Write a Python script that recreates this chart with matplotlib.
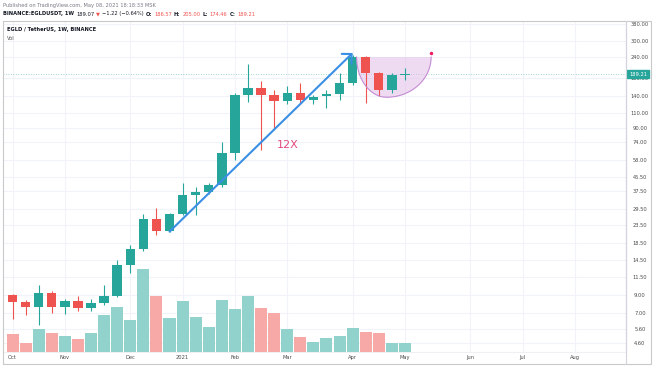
import numpy as np
import matplotlib
matplotlib.use("Agg")
import matplotlib.pyplot as plt
from matplotlib.patches import Rectangle, Polygon
from matplotlib.lines import Line2D
from matplotlib.ticker import FixedLocator, NullLocator, FuncFormatter
import matplotlib.transforms as mtransforms

# EGLD/USDT weekly candles, week 0 = 05 Oct 2020
opens = [8.95, 8.10, 7.55, 9.16, 7.60, 8.23, 7.44, 7.98, 8.82, 13.54,
         16.80, 25.60, 21.80, 27.30, 35.90, 37.20, 41.20, 63.40, 141.7, 155.5,
         141.7, 131.0, 146.3, 132.3, 139.0, 143.0, 168.0, 238.5, 192.8, 151.8,
         186.57]
highs = [9.05, 8.34, 10.28, 9.49, 8.43, 8.82, 8.43, 10.28, 14.50, 17.80,
         27.40, 29.60, 28.00, 41.80, 39.60, 42.00, 74.40, 145.0, 217.5, 172.8,
         151.5, 160.5, 166.5, 141.7, 151.5, 191.0, 246.0, 242.0, 196.0, 191.0,
         205.00]
lows = [6.40, 6.80, 5.91, 7.00, 6.92, 7.15, 7.20, 7.78, 8.70, 12.20,
        16.50, 20.50, 21.50, 27.00, 27.00, 36.00, 40.00, 57.80, 129.0, 66.3,
        89.8, 126.0, 125.0, 126.0, 118.0, 132.0, 162.7, 126.3, 139.8, 146.0,
        174.46]
closes = [8.10, 7.55, 9.16, 7.60, 8.23, 7.44, 7.98, 8.82, 13.54, 16.80,
          25.60, 21.80, 27.30, 35.90, 37.20, 41.20, 63.40, 141.7, 155.5, 141.7,
          131.0, 146.3, 132.3, 138.5, 143.0, 168.0, 238.5, 192.8, 151.8, 186.57,
          189.21]
# volume, thousand EGLD
volume = [177, 87, 230, 187, 160, 130, 187, 370, 447, 320,
          827, 560, 337, 510, 353, 253, 520, 430, 560, 440,
          387, 227, 147, 103, 137, 163, 237, 203, 187, 93,
          87]

month_pos = [0, 4, 9, 13, 17, 21, 26, 30, 35, 39, 43]
month_lbl = ['Oct', 'Nov', 'Dec', '2021', 'Feb', 'Mar', 'Apr', 'May', 'Jun', 'Jul', 'Aug']
price_ticks = [4.6, 5.6, 7.0, 9.0, 11.5, 14.5, 18.5, 23.5, 29.5, 37.5, 45.5, 58.0,
               74.0, 90.0, 110.0, 140.0, 180.0, 240.0, 300.0, 380.0]

# trend arrow from the Dec low to the Apr top, and the cup after it
arrow_from = 12
arrow_to = 26
cup_left, cup_mid, cup_right = 26.3, 28.6, 32.0
cup_top, cup_bottom = 239.5, 137.5

UP = '#26a69a'
DOWN = '#ef5350'
UP_VOL = '#92d2cc'
DOWN_VOL = '#f7a9a7'
TXT = '#131722'
SMALL = 3.7

W, H = 654, 366
fig = plt.figure(figsize=(W / 100, H / 100), dpi=100)
fig.patch.set_facecolor('white')

rect = [3 / W, 1 - 352 / H, (626 - 3) / W, (352 - 21) / H]
ax = fig.add_axes(rect)
ax_vol = fig.add_axes(rect, sharex=ax, zorder=ax.get_zorder() + 1)

x = np.arange(len(closes))
o = np.array(opens)
c = np.array(closes)
up = c >= o

# price panel
ax.set_yscale('log')
ax.vlines(x, lows, highs, colors=np.where(up, UP, DOWN), lw=0.8, zorder=3)
ax.bar(x, np.maximum(np.abs(c - o), 0.004 * c), bottom=np.minimum(o, c), width=0.72,
       color=np.where(up, UP, DOWN), zorder=4)

ax.set_xlim(-0.73, 46.9)
ax.set_ylim(4.08, 394)

ax.yaxis.tick_right()
ax.yaxis.set_major_locator(FixedLocator(price_ticks))
ax.yaxis.set_minor_locator(NullLocator())
ax.yaxis.set_major_formatter(FuncFormatter(lambda v, p: '%.2f' % v))
ax.set_xticks(month_pos, month_lbl)
ax.tick_params(axis='y', length=0, pad=10, labelsize=SMALL, labelcolor='#4a4a4a')
ax.tick_params(axis='x', length=0, pad=2, labelsize=SMALL, labelcolor='#4a4a4a')
for lab in ax.get_yticklabels():
    lab.set_ha('center')
ax.grid(True, color='#f0f3fa', lw=0.8, zorder=0)
ax.set_axisbelow(True)
for s in ['top', 'left']:
    ax.spines[s].set_visible(False)
ax.spines['right'].set_color('#d1d4dc')
ax.spines['bottom'].set_color('#eef0f4')

# last price line and label
ax.axhline(closes[-1], color=UP, lw=0.6, ls=(0, (1, 2)), alpha=0.6, zorder=2)
trans = mtransforms.blended_transform_factory(ax.transAxes, ax.transData)
ax.text(1.0 + 12 / (626 - 3), closes[-1], '%.2f' % closes[-1], transform=trans,
        ha='center', va='center', fontsize=SMALL, color='white', clip_on=False,
        bbox=dict(boxstyle='square,pad=0.35', fc=UP, ec=UP), zorder=10)

# trend arrow
ax.annotate('', xy=(arrow_to, highs[arrow_to] * 1.03), xytext=(arrow_from, lows[arrow_from]),
            arrowprops=dict(arrowstyle='->,head_length=0.5,head_width=0.5', color='#3a8fe5',
                            lw=1.5, shrinkA=0, shrinkB=0), zorder=6)
ax.text(21.0, 71, '12X', color='#e24a7c', fontsize=8, ha='center', va='center', zorder=6)

# cup
t = np.linspace(0, np.pi, 80)
half = np.where(np.cos(t) > 0, cup_right - cup_mid, cup_mid - cup_left)
cx = cup_mid + half * np.cos(t)
cy = np.exp(np.log(cup_top) - (np.log(cup_top) - np.log(cup_bottom)) * np.sin(t))
ax.add_patch(Polygon(np.column_stack([cx, cy]), closed=True, fc='#e1bee7', alpha=0.55,
                     ec='none', zorder=2))
ax.plot(cx, cy, color='#c48bd4', lw=0.8, zorder=5)
ax.plot([cup_right], [cup_top * 1.06], 'o', color='#e91e63', ms=1.5, zorder=6)

# volume panel on top, transparent
ax_vol.set_facecolor('none')
ax_vol.bar(x, volume, width=0.92, color=np.where(up, UP_VOL, DOWN_VOL), zorder=1)
ax_vol.set_ylim(0, 3310)
ax_vol.axis('off')

# frame and the axis separator
fig.add_artist(Rectangle((3 / W, 1 - 364 / H), (651 - 3) / W, (364 - 21) / H,
                         transform=fig.transFigure, fill=False, ec='#c9c9c9', lw=0.8))
fig.add_artist(Line2D([626 / W, 626 / W], [1 - 21 / H, 1 - 364 / H],
                      transform=fig.transFigure, color='#d1d4dc', lw=0.8))

# header lines, pieces laid next to each other
renderer = fig.canvas.get_renderer()


def put_line(x0, y0, parts):
    xx = x0
    for txt, col, bold in parts:
        t = fig.text(xx, y0, txt, color=col, fontsize=SMALL, va='center', ha='left',
                     fontweight='bold' if bold else 'normal')
        bb = t.get_window_extent(renderer)
        xx += (bb.width + 2.0) / W


put_line(3 / W, 1 - 5 / H, [('Published on TradingView.com, May 08, 2021 18:18:33 MSK', '#787b86', False)])
put_line(3 / W, 1 - 14 / H, [
    ('BINANCE:EGLDUSDT, 1W', TXT, True),
    ('189.07', TXT, False),
    ('\u25bc', DOWN, False),
    ('\u22121.22 (\u22120.64%)', TXT, False),
    ('O:', TXT, True), ('186.57', DOWN, False),
    ('H:', TXT, True), ('205.00', DOWN, False),
    ('L:', TXT, True), ('174.46', DOWN, False),
    ('C:', TXT, True), ('189.21', DOWN, False),
])
fig.text(7 / W, 1 - 30 / H, 'EGLD / TetherUS, 1W, BINANCE', fontsize=SMALL, fontweight='bold',
         color=TXT, va='center')
fig.text(7 / W, 1 - 38 / H, 'Vol', fontsize=SMALL, color='#555555', va='center')

fig.savefig('out.png', dpi=100)
